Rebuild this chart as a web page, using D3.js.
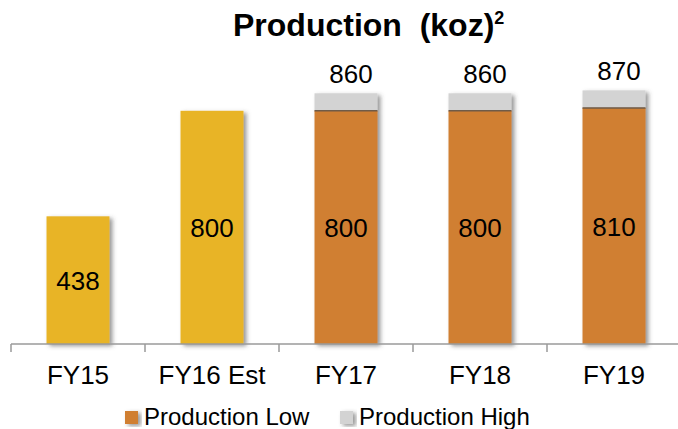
<!DOCTYPE html>
<html>
<head>
<meta charset="utf-8">
<script src="https://cdn.jsdelivr.net/npm/d3@7"></script>
<style>
  html, body { margin: 0; padding: 0; background: #fff; }
  svg { display: block; font-family: "Liberation Sans", Arial, sans-serif; }
</style>
</head>
<body>
<svg id="chart" width="678" height="429"></svg>
<script>
// ---- data ----
const categories = ["FY15", "FY16 Est", "FY17", "FY18", "FY19"];
const baseValues = [438, 800, 800, 800, 810];        // single bars / Production Low
const highValues = [null, null, 860, 860, 870];      // Production High (total)
const isGuidance = [false, false, true, true, true]; // orange/grey stacked bars
const seriesNames = ["Production Low", "Production High"];
const titleText = "Production\u00A0 (koz)";
const titleSup = "2";

// ---- styling ----
const W = 678, H = 429;
const colActual = "#E8B426";
const colLow = "#D07F30";
const colHigh = "#D3D3D3";
const axisColor = "#9a9a9a";

const svg = d3.select("#chart");

const defs = svg.append("defs");
const f = defs.append("filter").attr("id", "shadow")
  .attr("x", "-20%").attr("y", "-20%").attr("width", "150%").attr("height", "140%");
f.append("feDropShadow").attr("dx", 3).attr("dy", 2).attr("stdDeviation", 2)
  .attr("flood-color", "#444").attr("flood-opacity", 0.55);

const x = d3.scaleBand().domain(categories).range([11, 681])
  .paddingInner(0.53).paddingOuter(0.265);
const y = d3.scaleLinear().domain([0, 1000]).range([344, 52.5]);

// bars
const g = svg.append("g");
categories.forEach((c, i) => {
  const bx = x(c), bw = x.bandwidth();
  const grp = g.append("g").attr("filter", "url(#shadow)");
  if (isGuidance[i]) {
    grp.append("rect").attr("x", bx).attr("width", bw)
      .attr("y", y(highValues[i])).attr("height", y(baseValues[i]) - y(highValues[i]))
      .attr("fill", colHigh);
  }
  grp.append("rect").attr("x", bx).attr("width", bw)
    .attr("y", y(baseValues[i])).attr("height", y(0) - y(baseValues[i]))
    .attr("fill", isGuidance[i] ? colLow : colActual);
  if (isGuidance[i]) {
    g.append("line").attr("x1", bx).attr("x2", bx + bw)
      .attr("y1", y(baseValues[i])).attr("y2", y(baseValues[i]))
      .attr("stroke", "#6f5b48").attr("stroke-width", 1.5);
  }
});

// value labels
categories.forEach((c, i) => {
  const cx = x(c) + x.bandwidth() / 2;
  svg.append("text").attr("x", cx).attr("y", (y(baseValues[i]) + y(0)) / 2 + 10)
    .attr("text-anchor", "middle").attr("font-size", 26).attr("fill", "#000")
    .text(baseValues[i]);
  if (highValues[i] != null) {
    svg.append("text").attr("x", cx + 5).attr("y", y(highValues[i]) - 10)
      .attr("text-anchor", "middle").attr("font-size", 26).attr("fill", "#000")
      .text(highValues[i]);
  }
});

// axis
const axisY = y(0);
svg.append("line").attr("x1", 11).attr("x2", W).attr("y1", axisY).attr("y2", axisY)
  .attr("stroke", axisColor).attr("stroke-width", 1.5);
const bounds = categories.map(c => x(c) - x.step() * x.paddingInner() / 2);
bounds.forEach(bx => {
  svg.append("line").attr("x1", bx).attr("x2", bx).attr("y1", axisY).attr("y2", axisY + 8)
    .attr("stroke", axisColor).attr("stroke-width", 1.5);
});
const xAxis = d3.axisBottom(x).tickSize(0).tickPadding(0);
const ax = svg.append("g").attr("transform", `translate(0,${axisY})`).call(xAxis);
ax.select(".domain").remove();
ax.selectAll("text").attr("font-size", 26).attr("fill", "#000")
  .attr("font-family", "Liberation Sans, Arial, sans-serif")
  .attr("dy", null).attr("y", 40);

// title
const t = svg.append("text").attr("x", 233).attr("y", 36)
  .attr("font-size", 32).attr("font-weight", "bold").attr("fill", "#000");
t.append("tspan").text(titleText);
t.append("tspan").attr("font-size", 18).attr("dy", -12).text(titleSup);

// legend
const legendItems = [
  { name: seriesNames[0], color: colLow, sx: 125 },
  { name: seriesNames[1], color: colHigh, sx: 340 }
];
legendItems.forEach(d => {
  svg.append("rect").attr("x", d.sx).attr("y", 411).attr("width", 13).attr("height", 13)
    .attr("fill", d.color).attr("filter", "url(#shadow)");
  svg.append("text").attr("x", d.sx + 19).attr("y", 425).attr("font-size", 24)
    .attr("fill", "#000").text(d.name);
});
</script>
</body>
</html>
